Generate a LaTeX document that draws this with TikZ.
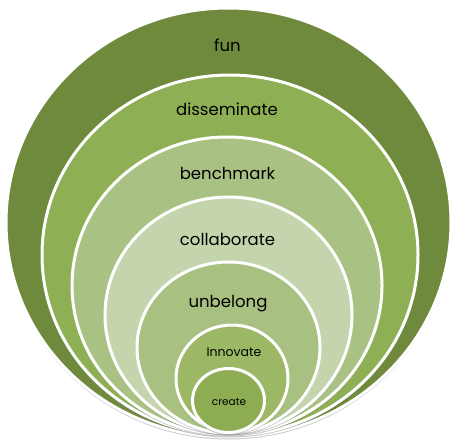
\documentclass[tikz,border=0pt]{standalone}
\usepackage{fontspec}
\setmainfont{Poppins}
\usetikzlibrary{shadows}
\definecolor{cA}{HTML}{6F8A3D}
\definecolor{cB}{HTML}{8FAF55}
\definecolor{cC}{HTML}{A9C283}
\definecolor{cD}{HTML}{C4D5AD}
\definecolor{cE}{HTML}{A8C080}
\definecolor{cF}{HTML}{9DB865}
\definecolor{cG}{HTML}{8EAD52}
\tikzset{
  ring/.style={draw=white, line width=3pt,
    drop shadow={opacity=0.35, shadow xshift=0pt, shadow yshift=-2.5pt, fill=black!60}},
  lbl/.style={text=black, inner sep=0pt, font=\fontsize{16.5}{16.5}\selectfont},
}
\begin{document}
\begin{tikzpicture}[x=1pt,y=-1pt]
\useasboundingbox (0,0) rectangle (457,444);
\fill[ring, fill=cA] (228.5,222.5) ellipse [x radius=222.5, y radius=214.5];
\fill[ring, fill=cB] (230,255) ellipse [x radius=188, y radius=180];
\fill[ring, fill=cC] (227,285.5) ellipse [x radius=155, y radius=148.5];
\fill[ring, fill=cD] (228.5,315) ellipse [x radius=123.5, y radius=118];
\fill[ring, fill=cE] (228.5,347.5) ellipse [x radius=91.5, y radius=85.5];
\fill[ring, fill=cF] (232,378.5) ellipse [x radius=56, y radius=53.5];
\fill[ring, fill=cG] (228.5,400.5) ellipse [x radius=36, y radius=32];
\node[lbl] (fun) at (227.5,45) {fun};
\node[lbl] (dis) at (227,109) {disseminate};
\node[lbl] (ben) at (227.5,173) {benchmark};
\node[lbl] (col) at (227.5,239) {collaborate};
\node[lbl] (unb) at (228,304) {unbelong};
\node[lbl, font=\fontsize{12.5}{12.5}\selectfont] (inn) at (234,352) {Innovate};
\node[lbl, font=\fontsize{10.5}{10.5}\selectfont] (cre) at (229,402) {create};
\end{tikzpicture}
\end{document}
